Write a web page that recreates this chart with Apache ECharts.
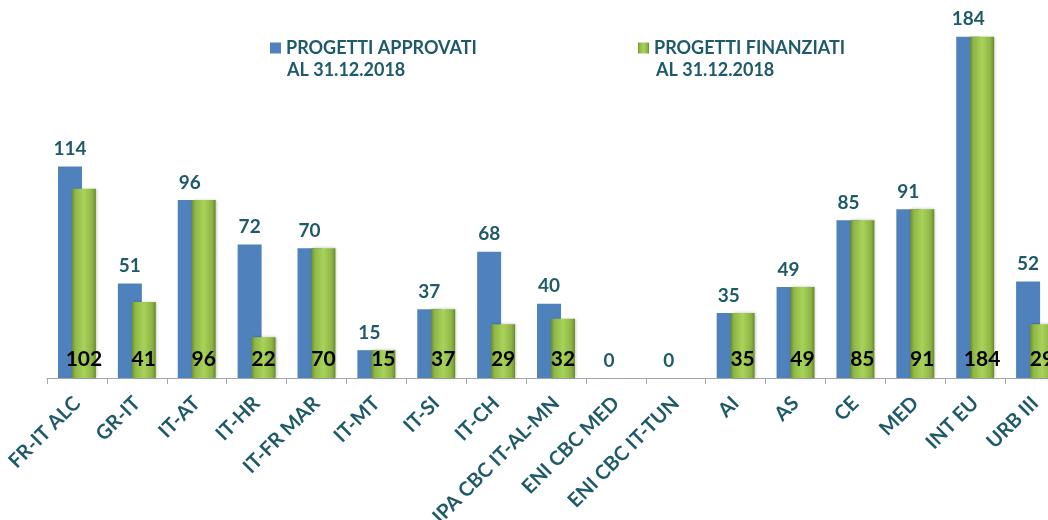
<!DOCTYPE html>
<html style="height: 100%;">
  <head>
    <meta charset="utf-8" />
  </head>
  <body style="height: 100%; margin: 0; background: #fff;">
    <div id="container" style="width: 1048px; height: 520px;"></div>
    <script src="https://cdn.jsdelivr.net/npm/echarts@6/dist/echarts.min.js"></script>
    <script type="text/javascript">
      var categories = [
        "FR-IT ALC", "GR-IT", "IT-AT", "IT-HR", "IT-FR MAR", "IT-MT", "IT-SI", "IT-CH",
        "IPA CBC IT-AL-MN", "ENI CBC MED", "ENI CBC IT-TUN", "AI", "AS", "CE", "MED", "INT EU", "URB III"
      ];
      var approvati = [114, 51, 96, 72, 70, 15, 37, 68, 40, 0, 0, 35, 49, 85, 91, 184, 52];
      var finanziati = [102, 41, 96, 22, 70, 15, 37, 29, 32, 0, 0, 35, 49, 85, 91, 184, 29];
      var seriesNames = ["PROGETTI APPROVATI", "PROGETTI FINANZIATI"];
      var legendSubtitle = "AL 31.12.2018";

      var teal = "#1f5a69";
      var fontFam = "Lato, 'Open Sans', sans-serif";

      var greenFill = new echarts.graphic.LinearGradient(0, 0, 1, 0, [
        { offset: 0, color: "#6e8e2c" },
        { offset: 0.15, color: "#8fb846" },
        { offset: 0.5, color: "#a8d35a" },
        { offset: 0.85, color: "#8db445" },
        { offset: 1, color: "#6a8a2a" }
      ]);

      var myChart = echarts.init(document.getElementById("container"));

      var legendText = {
        color: teal,
        fontFamily: fontFam,
        fontWeight: "bold",
        fontSize: 18
      };
      var subText = {
        text: legendSubtitle,
        fill: teal,
        fontFamily: fontFam,
        fontWeight: "bold",
        fontSize: 18,
        verticalAlign: "middle"
      };

      var option = {
        animation: false,
        legend: [
          {
            data: [seriesNames[0]],
            left: 265,
            top: 34,
            icon: "rect",
            itemWidth: 11,
            itemHeight: 11,
            textStyle: legendText
          },
          {
            data: [seriesNames[1]],
            left: 633,
            top: 34,
            icon: "rect",
            itemWidth: 11,
            itemHeight: 11,
            textStyle: legendText
          }
        ],
        graphic: [
          { type: "text", left: 287, top: 61, style: subText },
          { type: "text", left: 656, top: 61, style: subText }
        ],
        grid: { left: 47, right: -17, top: 7, bottom: 142, containLabel: false, outerBoundsMode: "none" },
        xAxis: {
          type: "category",
          data: categories,
          axisLine: { lineStyle: { color: "#a6a6a6", width: 1 } },
          axisTick: { show: true, length: 6, lineStyle: { color: "#a6a6a6" } },
          axisLabel: {
            rotate: 45,
            interval: 0,
            margin: 22,
            color: teal,
            fontFamily: fontFam,
            fontWeight: "bold",
            fontSize: 20
          }
        },
        yAxis: {
          type: "value",
          min: 0,
          max: 200,
          show: false,
          splitLine: { show: false }
        },
        series: [
          {
            name: seriesNames[0],
            type: "bar",
            data: approvati,
            barWidth: 24,
            barGap: "-42%",
            itemStyle: { color: "#4f81bd" },
            label: {
              show: true,
              position: "top",
              distance: 8,
              color: teal,
              fontFamily: fontFam,
              fontWeight: "bold",
              fontSize: 19
            }
          },
          {
            name: seriesNames[1],
            type: "bar",
            data: finanziati,
            barWidth: 24,
            itemStyle: {
              color: greenFill,
              shadowColor: "rgba(0,0,0,0.25)",
              shadowBlur: 3,
              shadowOffsetX: 1
            },
            label: {
              show: true,
              position: "insideBottom",
              distance: 8,
              color: "#000",
              fontFamily: fontFam,
              fontWeight: "bold",
              fontSize: 21,
              formatter: function (p) { return p.value === 0 ? "" : p.value; }
            }
          }
        ]
      };

      myChart.setOption(option);
    </script>
  </body>
</html>
